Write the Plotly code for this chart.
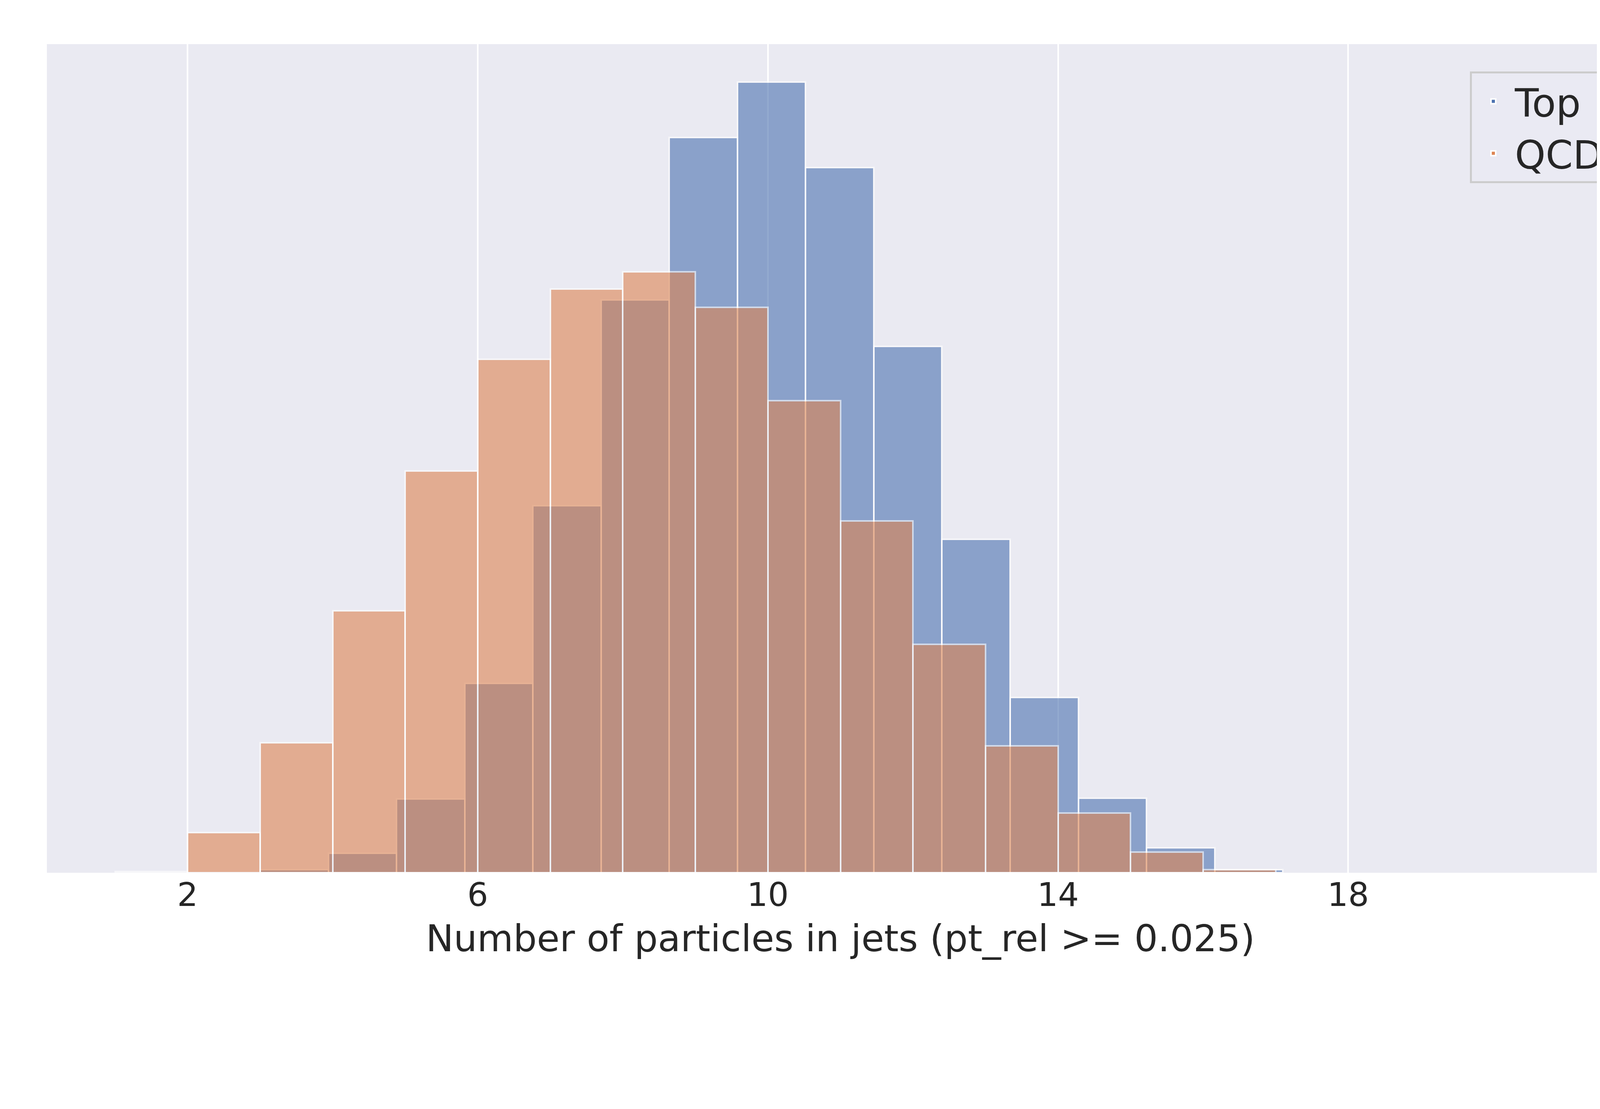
import plotly.graph_objects as go

top_start, top_width = 3.0, 0.94
top_counts = [3, 18, 68, 175, 339, 529, 679, 730, 651, 486, 308, 162, 69, 23, 3]
qcd_start, qcd_width = 1.0, 1.0
qcd_counts = [1, 37, 120, 242, 371, 474, 539, 555, 522, 436, 325, 211, 117, 55, 19, 3]
xticks = [2, 6, 10, 14, 18, 22]

def centers(start, w, n):
    return [start + w * (i + 0.5) for i in range(n)]

fig = go.Figure()
fig.add_bar(x=centers(top_start, top_width, len(top_counts)), y=top_counts, width=top_width,
            name="Top", marker=dict(color="#4c72b0", opacity=0.6, line=dict(color="white", width=4)))
fig.add_bar(x=centers(qcd_start, qcd_width, len(qcd_counts)), y=qcd_counts, width=qcd_width,
            name="QCD", marker=dict(color="#dd8452", opacity=0.6, line=dict(color="white", width=4)))
fig.update_layout(
    width=4340, height=2840, barmode="overlay",
    paper_bgcolor="white", plot_bgcolor="#eaeaf2",
    margin=dict(l=112, r=165, t=105, b=613),
    font=dict(family="DejaVu Sans", color="#262626", size=84),
    xaxis=dict(range=[0.06, 21.94], tickvals=xticks, showgrid=True, gridcolor="white", gridwidth=4,
               zeroline=False, ticks="", ticklen=20, tickcolor="rgba(0,0,0,0)",
               title=dict(text="Number of particles in jets (pt_rel >= 0.025)", font=dict(size=95), standoff=30),
               tickfont=dict(size=84)),
    yaxis=dict(range=[0, 765], showticklabels=False, showgrid=False, zeroline=False),
    legend=dict(x=0.983, y=0.967, xanchor="right", yanchor="top", bgcolor="rgba(234,234,242,0.8)",
                bordercolor="#cccccc", borderwidth=5, font=dict(size=100), itemwidth=100),
    bargap=0,
)
fig.write_html("out.html")
